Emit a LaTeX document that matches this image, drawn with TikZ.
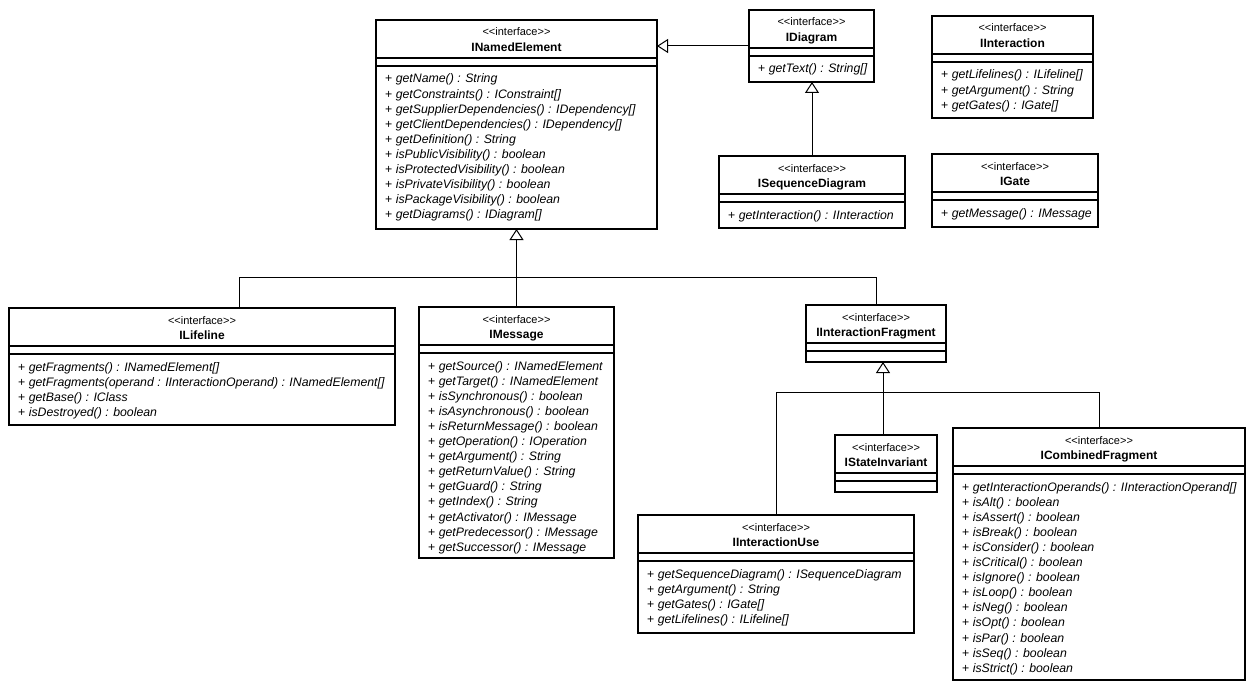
\documentclass[tikz,border=0pt]{standalone}
\usepackage{fontspec}
\setmainfont{Liberation Sans}
\usetikzlibrary{arrows.meta}
\tikzset{
  boxst/.style={draw, line width=2pt, fill=white, inner sep=0pt, outer sep=0pt},
  sepline/.style={line width=1.2pt},
  stereo/.style={inner sep=0pt, font=\fontsize{11}{13}\selectfont},
  cname/.style={inner sep=0pt, font=\bfseries\fontsize{12}{14}\selectfont},
  meth/.style={inner sep=0pt, font=\fontsize{12.3}{15}\selectfont},
  conn/.style={line width=1pt},
  gen/.style={conn, -{Triangle[open, length=11pt, width=14pt]}},
}
\newcommand\ibox[6]{%
  \node[boxst, anchor=north west, minimum width={(#4-#2)*1pt}, minimum height={(#5-#3)*1pt}] (#1) at (#2,#3) {};
  \node[stereo, anchor=base] (#1s) at ({(#2+#4)/2},{#3+16}) {{<}{<}interface{>}{>}};
  \node[cname, anchor=base] (#1n) at ({(#2+#4)/2},{#3+31.5}) {#6};
  \draw[sepline] (#2,{#3+38}) -- (#4,{#3+38});
  \draw[sepline] (#2,{#3+46}) -- (#4,{#3+46});
}
\newcommand\imeth[4]{%
  \foreach \t [count=\i] in {#4} {
    \node[meth, anchor=base west] (#1m\i) at ({#2+9},{#3+63+15.1*(\i-1)}) {+ \textit{\t}};
  }
}
\begin{document}
\begin{tikzpicture}[x=1pt, y=-1pt]
\fill[white] (0,0) rectangle (1255,690);
\useasboundingbox (0,0) rectangle (1255,690);

\ibox{ne}{376}{20}{657}{229}{INamedElement}
\imeth{ne}{376}{20}{getName() : String,%
getConstraints() : IConstraint[],%
getSupplierDependencies() : IDependency[],%
getClientDependencies() : IDependency[],%
getDefinition() : String,%
isPublicVisibility() : boolean,%
isProtectedVisibility() : boolean,%
isPrivateVisibility() : boolean,%
isPackageVisibility() : boolean,%
getDiagrams() : IDiagram[]}

\ibox{dia}{749}{10}{874}{82}{IDiagram}
\imeth{dia}{749}{10}{getText() : String[]}

\ibox{inter}{932}{16}{1093}{118}{IInteraction}
\imeth{inter}{932}{16}{getLifelines() : ILifeline[],%
getArgument() : String,%
getGates() : IGate[]}

\ibox{seq}{719}{156}{905}{228}{ISequenceDiagram}
\imeth{seq}{719}{156}{getInteraction() : IInteraction}

\ibox{gate}{932}{154}{1098}{227}{IGate}
\imeth{gate}{932}{154}{getMessage() : IMessage}

\ibox{life}{9}{308}{395}{425}{ILifeline}
\imeth{life}{9}{308}{getFragments() : INamedElement[],%
getFragments(operand : IInteractionOperand) : INamedElement[],%
getBase() : IClass,%
isDestroyed() : boolean}

\ibox{msg}{419}{307}{614}{558}{IMessage}
\imeth{msg}{419}{307}{getSource() : INamedElement,%
getTarget() : INamedElement,%
isSynchronous() : boolean,%
isAsynchronous() : boolean,%
isReturnMessage() : boolean,%
getOperation() : IOperation,%
getArgument() : String,%
getReturnValue() : String,%
getGuard() : String,%
getIndex() : String,%
getActivator() : IMessage,%
getPredecessor() : IMessage,%
getSuccessor() : IMessage}

\ibox{frag}{806}{305}{946}{362}{IInteractionFragment}

\ibox{state}{835}{435}{937}{492}{IStateInvariant}

\ibox{comb}{953}{428}{1245}{680}{ICombinedFragment}
\imeth{comb}{953}{428}{getInteractionOperands() : IInteractionOperand[],%
isAlt() : boolean,%
isAssert() : boolean,%
isBreak() : boolean,%
isConsider() : boolean,%
isCritical() : boolean,%
isIgnore() : boolean,%
isLoop() : boolean,%
isNeg() : boolean,%
isOpt() : boolean,%
isPar() : boolean,%
isSeq() : boolean,%
isStrict() : boolean}

\ibox{use}{638}{515}{914}{633}{IInteractionUse}
\imeth{use}{638}{515}{getSequenceDiagram() : ISequenceDiagram,%
getArgument() : String,%
getGates() : IGate[],%
getLifelines() : ILifeline[]}

% connectors
\coordinate (j1) at (516.5,277);
\coordinate (j2) at (883,392);
\draw[conn] ([xshift=37pt]life.north) |- (j1);
\draw[conn] (frag.north) |- (j1);
\draw[gen] (msg.north) -- (ne.south);
\draw[conn] (use.north) |- (j2);
\draw[conn] (comb.north) |- (j2);
\draw[gen] ([xshift=-3pt]state.north) -- ([xshift=7pt]frag.south);
\draw[gen] (dia.west) -- (dia.west -| ne.east);
\draw[gen] (seq.north) -- (seq.north |- dia.south);
\end{tikzpicture}
\end{document}
